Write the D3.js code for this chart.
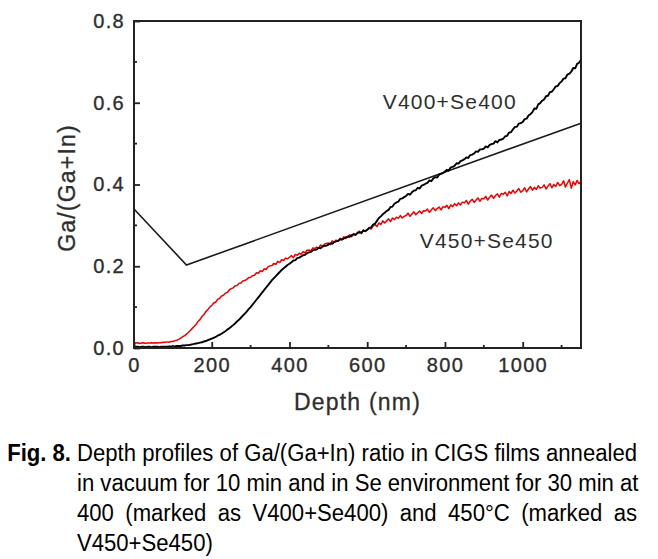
<!DOCTYPE html>
<html><head><meta charset="utf-8">
<script src="https://cdn.jsdelivr.net/npm/d3@7"></script>
<style>html,body{margin:0;padding:0;background:#fff;}svg{display:block;}</style>
</head><body>
<svg id="c" width="658" height="559"></svg>
<script>
// ---- data ----
const depthStep = 5; // nm between profile samples
const xTicks = [0, 200, 400, 600, 800, 1000];
const xMinorTicks = [100, 300, 500, 700, 900, 1100];
const yTicks = [0.0, 0.2, 0.4, 0.6, 0.8];
const yMinorTicks = [0.1, 0.3, 0.5, 0.7];
const xTickLabels = ["0", "200", "400", "600", "800", "1000"];
const yTickLabels = ["0.0", "0.2", "0.4", "0.6", "0.8"];

const guideDepth = [0, 135, 1150];
const guideRatio = [0.34, 0.203, 0.55];

const v450 = [
0.013,0.012,0.013,0.011,0.012,0.013,0.011,0.012,0.012,0.013,
0.012,0.013,0.012,0.013,0.013,0.014,0.014,0.015,0.014,0.016,
0.016,0.018,0.019,0.021,0.024,0.027,0.030,0.034,0.038,0.043,
0.048,0.053,0.058,0.065,0.070,0.077,0.082,0.089,0.094,0.100,
0.104,0.110,0.112,0.119,0.121,0.127,0.129,0.134,0.136,0.142,
0.145,0.147,0.152,0.153,0.158,0.159,0.164,0.165,0.168,0.172,
0.173,0.177,0.178,0.184,0.183,0.189,0.187,0.194,0.192,0.199,
0.201,0.202,0.207,0.205,0.212,0.209,0.216,0.214,0.220,0.218,
0.222,0.226,0.221,0.229,0.227,0.232,0.229,0.236,0.233,0.239,
0.240,0.237,0.245,0.243,0.247,0.244,0.252,0.249,0.254,0.256,
0.257,0.253,0.262,0.259,0.264,0.261,0.268,0.266,0.272,0.268,
0.273,0.277,0.272,0.280,0.276,0.283,0.286,0.280,0.289,0.285,
0.290,0.295,0.291,0.298,0.302,0.297,0.306,0.302,0.311,0.306,
0.311,0.316,0.309,0.318,0.314,0.320,0.317,0.324,0.318,0.322,
0.324,0.330,0.322,0.328,0.333,0.326,0.331,0.335,0.329,0.336,
0.335,0.340,0.332,0.338,0.343,0.336,0.341,0.345,0.338,0.346,
0.344,0.349,0.341,0.350,0.346,0.353,0.348,0.355,0.350,0.357,
0.355,0.361,0.352,0.359,0.364,0.356,0.362,0.367,0.359,0.366,
0.365,0.371,0.362,0.369,0.374,0.366,0.373,0.377,0.369,0.378,
0.376,0.381,0.372,0.383,0.378,0.386,0.379,0.384,0.390,0.381,
0.385,0.392,0.382,0.389,0.395,0.386,0.393,0.388,0.397,0.391,
0.393,0.399,0.389,0.396,0.402,0.392,0.400,0.395,0.405,0.397,
0.400,0.409,0.394,0.403,0.412,0.391,0.407,0.399,0.410,0.402,
0.407];

const v400 = [
0.004,0.003,0.003,0.002,0.003,0.003,0.002,0.003,0.003,0.002,
0.003,0.003,0.003,0.002,0.003,0.003,0.003,0.003,0.004,0.004,
0.004,0.004,0.005,0.005,0.005,0.006,0.006,0.007,0.007,0.008,
0.009,0.010,0.011,0.012,0.013,0.014,0.016,0.017,0.019,0.021,
0.023,0.025,0.027,0.030,0.032,0.035,0.038,0.041,0.045,0.048,
0.052,0.056,0.060,0.065,0.069,0.074,0.079,0.084,0.089,0.095,
0.100,0.106,0.112,0.118,0.124,0.130,0.136,0.142,0.148,0.154,
0.160,0.166,0.171,0.176,0.181,0.186,0.191,0.195,0.199,0.203,
0.206,0.210,0.214,0.215,0.220,0.221,0.224,0.227,0.228,0.232,
0.234,0.235,0.239,0.240,0.241,0.245,0.244,0.248,0.250,0.250,
0.253,0.256,0.255,0.259,0.261,0.262,0.266,0.265,0.268,0.271,
0.272,0.272,0.276,0.278,0.277,0.281,0.283,0.282,0.287,0.286,
0.289,0.293,0.295,0.302,0.304,0.311,0.318,0.322,0.327,0.331,
0.335,0.338,0.345,0.346,0.353,0.356,0.358,0.365,0.366,0.369,
0.372,0.377,0.375,0.381,0.385,0.386,0.392,0.390,0.397,0.399,
0.402,0.404,0.410,0.408,0.415,0.418,0.417,0.424,0.426,0.428,
0.432,0.436,0.434,0.442,0.443,0.446,0.452,0.451,0.457,0.459,
0.462,0.466,0.465,0.472,0.473,0.476,0.481,0.480,0.486,0.486,
0.488,0.493,0.491,0.497,0.499,0.500,0.506,0.503,0.509,0.510,
0.512,0.518,0.519,0.527,0.528,0.535,0.541,0.541,0.549,0.550,
0.553,0.560,0.561,0.569,0.572,0.577,0.586,0.585,0.596,0.599,
0.605,0.608,0.616,0.617,0.626,0.627,0.633,0.640,0.641,0.648,
0.652,0.659,0.660,0.669,0.671,0.676,0.685,0.684,0.695,0.698,
0.705];

const seriesLabels = ["V400+Se400", "V450+Se450"];
const xTitle = "Depth (nm)";
const yTitle = "Ga/(Ga+In)";
const captionHead = "Fig. 8.";
const captionLines = [
  "Depth profiles of Ga/(Ga+In) ratio in CIGS films annealed",
  "in vacuum for 10 min and in Se environment for 30 min at",
  "400 (marked as V400+Se400) and 450°C (marked as",
  "V450+Se450)"
];

// ---- drawing ----
const svg = d3.select("#c");
const L = 134, R = 581, T = 21, B = 348;
const x = d3.scaleLinear().domain([0, 1150]).range([L, R]);
const y = d3.scaleLinear().domain([0, 0.8]).range([B, T]);
const axisColor = "#222";
const textColor = "#2e2e2e";
const tickFont = "'Liberation Sans', Arial, sans-serif";

// data lines
const line = d3.line().x(d => x(d[0])).y(d => y(d[1]));
const guide = guideDepth.map((d, i) => [d, guideRatio[i]]);
svg.append("path").datum(guide).attr("d", line)
  .attr("fill", "none").attr("stroke", "#1a1a1a").attr("stroke-width", 1.6);

const redPts = v450.map((v, i) => [i * depthStep, v]);
const blkPts = v400.map((v, i) => [i * depthStep, v]);
svg.append("path").datum(redPts).attr("d", line)
  .attr("fill", "none").attr("stroke", "#f00000").attr("stroke-width", 1.5)
  .attr("stroke-linejoin", "round");
svg.append("path").datum(blkPts).attr("d", line)
  .attr("fill", "none").attr("stroke", "#000").attr("stroke-width", 1.9)
  .attr("stroke-linejoin", "round");

// axes (ticks inward)
const xAxis = d3.axisBottom(x).tickValues(xTicks).tickSize(-6)
  .tickFormat((d, i) => xTickLabels[i]);
const gx = svg.append("g").attr("transform", `translate(0,${B})`).call(xAxis);
gx.select(".domain").remove();
gx.selectAll(".tick line").attr("stroke", axisColor).attr("stroke-width", 1.8);
gx.selectAll(".tick text").attr("fill", textColor).attr("font-family", tickFont)
  .attr("font-size", 20).attr("letter-spacing", 1.3)
  .attr("stroke", textColor).attr("stroke-width", 0.35)
  .attr("y", 10).attr("dy", "0.71em");
svg.append("g").selectAll("line").data(xMinorTicks).join("line")
  .attr("x1", d => x(d)).attr("x2", d => x(d)).attr("y1", B).attr("y2", B - 3)
  .attr("stroke", axisColor).attr("stroke-width", 1.8);

const yAxis = d3.axisLeft(y).tickValues(yTicks).tickSize(-6)
  .tickFormat((d, i) => yTickLabels[i]);
const gy = svg.append("g").attr("transform", `translate(${L},0)`).call(yAxis);
gy.select(".domain").remove();
gy.selectAll(".tick line").attr("stroke", axisColor).attr("stroke-width", 1.8);
gy.selectAll(".tick text").attr("fill", textColor).attr("font-family", tickFont)
  .attr("font-size", 20).attr("letter-spacing", 1.3)
  .attr("stroke", textColor).attr("stroke-width", 0.35).attr("x", -9);
svg.append("g").selectAll("line").data(yMinorTicks).join("line")
  .attr("x1", L).attr("x2", L + 3).attr("y1", d => y(d)).attr("y2", d => y(d))
  .attr("stroke", axisColor).attr("stroke-width", 1.8);

// frame
svg.append("rect").attr("x", L).attr("y", T).attr("width", R - L).attr("height", B - T)
  .attr("fill", "none").attr("stroke", axisColor).attr("stroke-width", 2);

// axis titles
svg.append("text").attr("x", x(575)).attr("y", 410).attr("text-anchor", "middle")
  .attr("font-family", tickFont).attr("font-size", 23).attr("letter-spacing", 1.2)
  .attr("fill", textColor).attr("stroke", textColor).attr("stroke-width", 0.3).text(xTitle);
svg.append("text").attr("transform", "translate(75,188) rotate(-90)")
  .attr("text-anchor", "middle").attr("font-family", tickFont).attr("font-size", 23)
  .attr("letter-spacing", 1.2).attr("fill", textColor)
  .attr("stroke", textColor).attr("stroke-width", 0.3).text(yTitle);

// series annotations
svg.append("text").attr("x", x(640)).attr("y", y(0.585)).attr("font-family", tickFont)
  .attr("font-size", 21).attr("letter-spacing", 1.2).attr("fill", textColor).text(seriesLabels[0]);
svg.append("text").attr("x", x(735)).attr("y", y(0.244)).attr("font-family", tickFont)
  .attr("font-size", 21).attr("letter-spacing", 1.2).attr("fill", textColor).text(seriesLabels[1]);

// caption (condensed sans, justified)
const capFont = "'Liberation Sans Narrow', 'Arial Narrow', 'Liberation Sans', sans-serif";
const capLeft = 77, capRight = 637, capBase = 461, capGap = 30, capSize = 23;
const target = capRight - capLeft;
const capTexts = captionLines.map((ln, i) =>
  svg.append("text").attr("x", 0).attr("y", 0)
    .attr("font-family", capFont).attr("font-size", capSize).attr("fill", "#000").text(ln));
const w1 = capTexts[0].node().getComputedTextLength();
const sx = Math.min(1, target / w1);
capTexts.forEach((t, i) => {
  t.attr("transform", `translate(${capLeft},${capBase + i * capGap}) scale(${sx},1)`);
  if (i < 3) {
    const w = t.node().getComputedTextLength();
    const spaces = (captionLines[i].match(/ /g) || []).length;
    const extra = target / sx - w;
    if (extra > 0) t.attr("word-spacing", extra / spaces);
  }
});
svg.append("text").attr("transform", `translate(71,${capBase}) scale(${sx},1)`)
  .attr("text-anchor", "end")
  .attr("font-family", capFont).attr("font-size", capSize).attr("font-weight", "bold")
  .attr("fill", "#000").text(captionHead);
</script>
</body></html>
